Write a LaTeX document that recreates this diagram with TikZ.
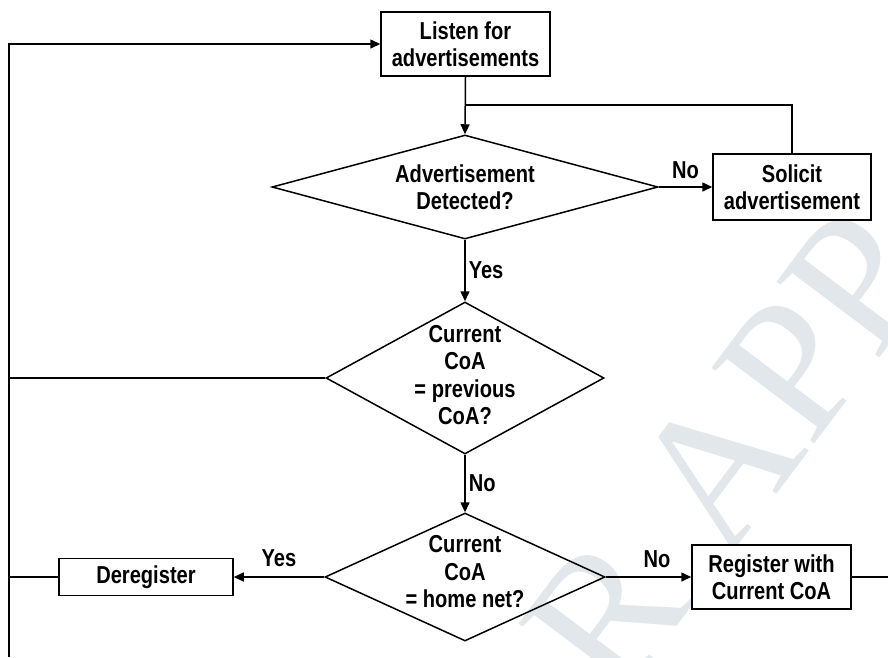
\documentclass[tikz,border=0pt]{standalone}
\usepackage{fontspec}
\setmainfont{Liberation Sans}[FakeStretch=0.82]
\newfontfamily\markfont{Liberation Serif}
\usetikzlibrary{shapes.geometric,arrows.meta}
\definecolor{markgray}{RGB}{226,231,236}

\begin{document}
\begin{tikzpicture}[x=1pt,y=-1pt,
  every node/.style={font=\fontsize{24.5}{27.5}\selectfont\bfseries, align=center},
  proc/.style={draw, line width=1.5pt, inner sep=0pt, fill=white},
  decision/.style={draw, diamond, line width=1.5pt, inner sep=0pt},
  txt/.style={inner sep=0pt},
  lbl/.style={inner sep=3pt},
  link/.style={line width=1.5pt},
  flow/.style={line width=1.5pt, -{Triangle[length=10pt,width=9pt]}}
]
\useasboundingbox (0,0) rectangle (888,657);

% faint background stamp
\begin{scope}
  \clip (0,0) rectangle (888,657);
  \node[font=\markfont\fontsize{195}{195}\selectfont, text=markgray, rotate=53, inner sep=0pt]
    (stamp) at (728,452) {R APP};
\end{scope}

% process boxes and decisions
\node[proc, minimum width=169pt, minimum height=64pt] (listen) at (465.5,44) {Listen for\\advertisements};
\node[decision, minimum width=386pt, minimum height=104pt] (d1) at (465,187) {};
\node[txt] (d1t) at (d1) {Advertisement\\Detected?};
\node[proc, minimum width=158pt, minimum height=66pt] (sol) at (792,187) {Solicit\\advertisement};

\node[decision, minimum width=278pt, minimum height=152pt] (d2) at (465,378) {};
\node[txt] (d2t) at (465,375) {Current\\CoA\\= previous\\CoA?};

\node[decision, minimum width=280pt, minimum height=128pt] (d3) at (465,577) {};
\node[txt] (d3t) at (465,572) {Current\\CoA\\= home net?};
\node[proc, minimum width=174pt, minimum height=37pt] (dereg) at (146,577) {Deregister};
\node[proc, minimum width=159pt, minimum height=64pt] (reg) at (771.5,577) {Register with\\Current CoA};

% free ends of the loop lines
\coordinate (lb) at (9,657);
\coordinate (re) at (888,577);
\coordinate (join) at (465,105);

% connectors
\draw[flow] (lb) |- (listen.west);
\draw[flow] (listen.south) -- (d1.north);
\draw[link] (sol.north) |- (join);
\draw[flow] (d1.east) -- (sol.west) node[lbl, midway, above=5pt] {No};
\draw[flow] (d1.south) -- (d2.north) node[lbl, midway, right] {Yes};
\draw[link] (d2.west) -- (d2.west -| lb);
\draw[flow] (d2.south) -- (d3.north) node[lbl, midway, right] {No};
\draw[flow] (d3.west) -- (dereg.east) node[lbl, midway, above=7pt] {Yes};
\draw[link] (dereg.west) -- (dereg.west -| lb);
\draw[flow] (d3.east) -- (reg.west) node[lbl, pos=0.6, above=6pt] {No};
\draw[link] (reg.east) -- (re);
\end{tikzpicture}
\end{document}
